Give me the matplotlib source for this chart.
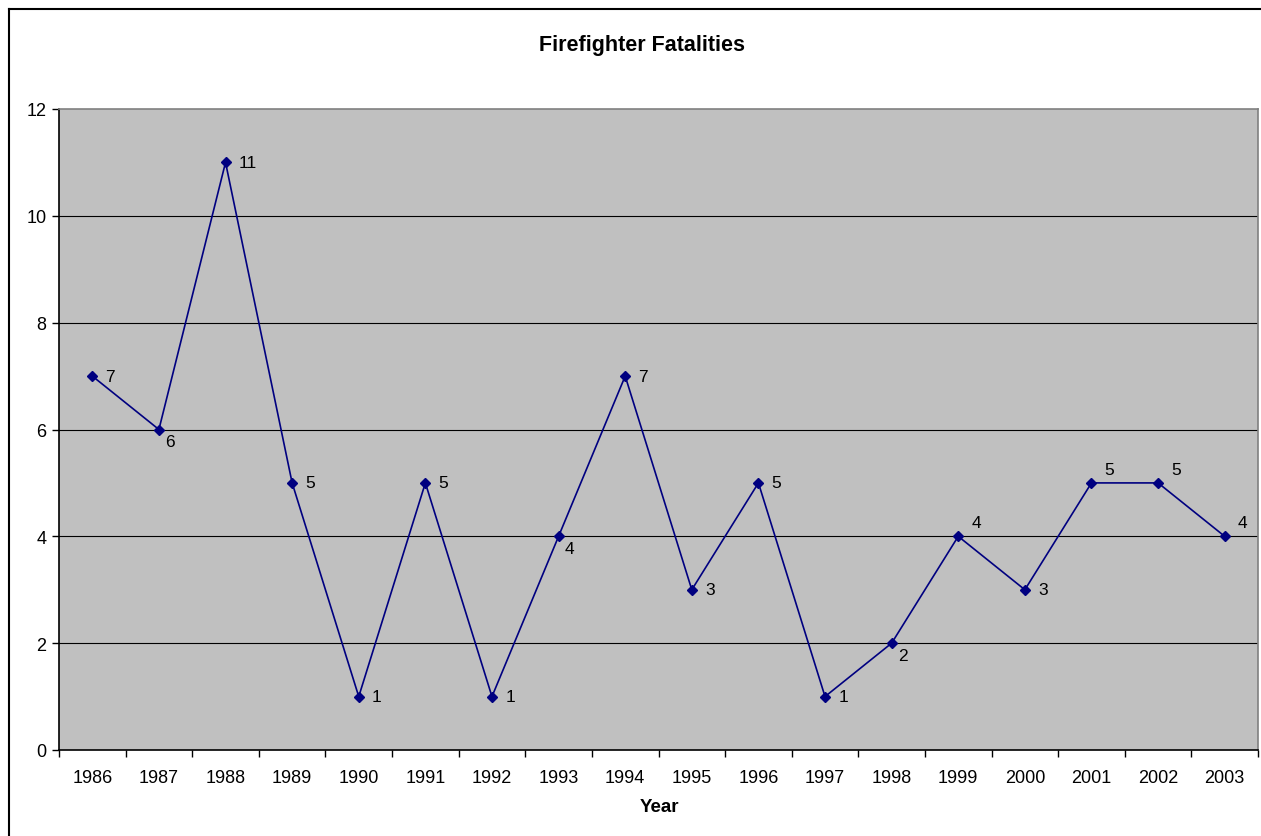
import matplotlib
matplotlib.use('Agg')
import matplotlib.pyplot as plt
from matplotlib.lines import Line2D

plt.rcParams['font.family'] = ['Liberation Sans', 'DejaVu Sans']

# Muertes de bomberos por anio
anios = ['1986', '1987', '1988', '1989', '1990', '1991', '1992', '1993', '1994',
         '1995', '1996', '1997', '1998', '1999', '2000', '2001', '2002', '2003']
muertes = [7, 6, 11, 5, 1, 5, 1, 4, 7, 3, 5, 1, 2, 4, 3, 5, 5, 4]
# donde va la etiqueta de cada punto: 'd' derecha, 'b' abajo, 'a' arriba
pos_etiqueta = ['d', 'b', 'd', 'd', 'd', 'd', 'd', 'b', 'd',
                'd', 'd', 'd', 'b', 'a', 'd', 'a', 'a', 'a']

W, H = 1261, 837
fig = plt.figure(figsize=(W / 100, H / 100), dpi=100)
ax = fig.add_axes([59 / W, 1 - 751 / H, (1258 - 59) / W, (751 - 110) / H])
ax.set_facecolor('#c0c0c0')

x = list(range(len(anios)))
ax.plot(x, muertes, color='#000080', linewidth=1.2, marker='D', markersize=5,
        zorder=3)

desplazamientos = {'d': (9.5, 0), 'b': (4.5, -9), 'a': (9.5, 10)}
for xi, yi, p in zip(x, muertes, pos_etiqueta):
    dx, dy = desplazamientos[p]
    ax.annotate(str(yi), (xi, yi), xytext=(dx, dy), textcoords='offset points',
                ha='left', va='center', fontsize=12.5, zorder=4)

ax.set_xlim(-0.5, len(anios) - 0.5)
ax.set_ylim(0, 12)
ax.set_yticks(range(0, 13, 2))
ax.set_xticks([i + 0.5 for i in range(-1, len(anios))])
ax.set_xticklabels([])
ax.set_xticks(x, minor=True)
ax.set_xticklabels(anios, minor=True, fontsize=13)
ax.tick_params(axis='x', which='minor', length=0, pad=14)
ax.tick_params(axis='x', which='major', direction='out', length=5, width=1)
ax.tick_params(axis='y', direction='out', length=5, width=1, labelsize=13, pad=4)

for yv in range(2, 12, 2):
    ax.axhline(yv, color='black', linewidth=0.8, zorder=1)

ax.spines['left'].set_color('black')
ax.spines['bottom'].set_color('black')
ax.spines['top'].set_color('#808080')
ax.spines['right'].set_color('#808080')
for s in ax.spines.values():
    s.set_linewidth(1.2)

fig.text(642 / W, 1 - 46 / H, 'Firefighter Fatalities', ha='center', va='center',
         fontsize=15.5, fontweight='bold')
fig.text(659 / W, 1 - 808 / H, 'Year', ha='center', va='center',
         fontsize=13.5, fontweight='bold')

# marco exterior del grafico
fig.add_artist(Line2D([9 / W, 9 / W], [0, 1 - 10 / H], color='black',
                      linewidth=1.5, transform=fig.transFigure))
fig.add_artist(Line2D([9 / W, 1], [1 - 10 / H, 1 - 10 / H], color='black',
                      linewidth=1.5, transform=fig.transFigure))

fig.savefig('out.png', dpi=100)
plt.close()
